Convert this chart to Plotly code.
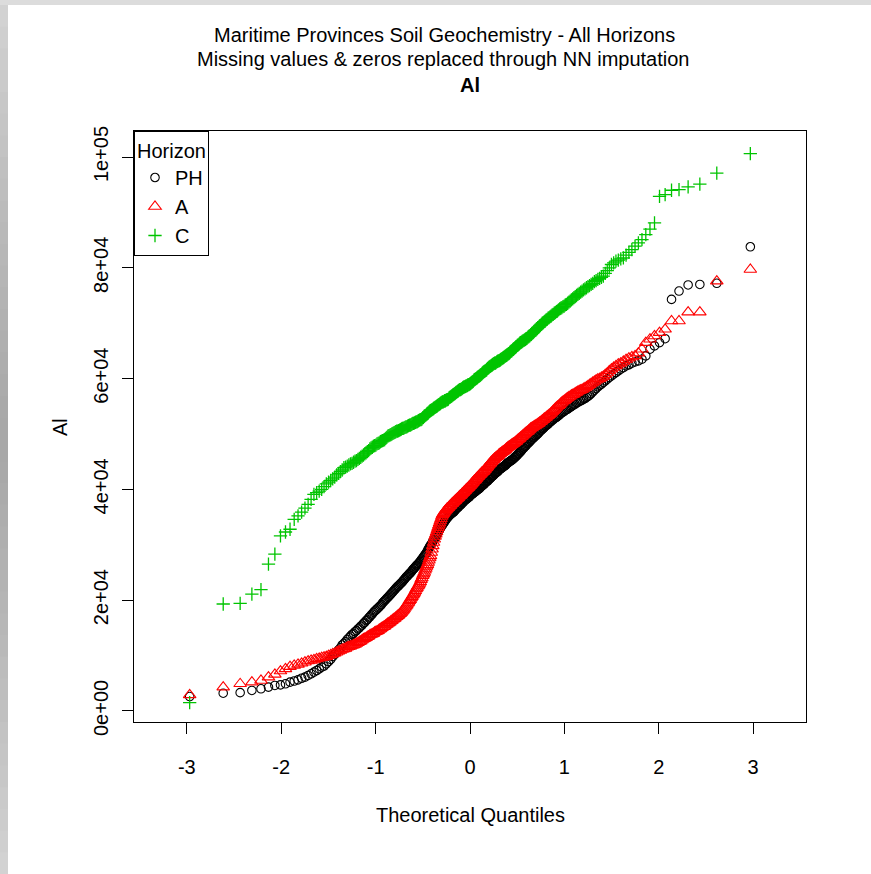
import plotly.graph_objects as go
from statistics import NormalDist

# Sorted Al concentrations per soil horizon (thousands of mg/kg)
ph_al_k = [
    2.6, 3.2, 3.3, 3.7, 4.0, 4.3, 4.6, 4.7, 4.9, 5.2,
    5.4, 5.6, 5.9, 6.1, 6.4, 6.7, 7.0, 7.3, 7.6, 7.9,
    8.1, 8.5, 8.9, 9.3, 9.8, 10.2, 10.6, 11.0, 11.4, 11.9,
    12.2, 12.5, 12.9, 13.2, 13.5, 13.8, 14.0, 14.3, 14.5, 14.8,
    15.0, 15.3, 15.5, 15.8, 16.0, 16.3, 16.5, 16.8, 17.0, 17.3,
    17.5, 17.8, 18.0, 18.2, 18.4, 18.6, 18.8, 19.0, 19.2, 19.5,
    19.7, 19.9, 20.1, 20.3, 20.5, 20.7, 20.9, 21.1, 21.3, 21.5,
    21.7, 21.9, 22.1, 22.3, 22.5, 22.6, 22.8, 23.0, 23.1, 23.3,
    23.5, 23.7, 23.9, 24.1, 24.3, 24.4, 24.6, 24.8, 24.9, 25.1,
    25.3, 25.5, 25.7, 25.8, 26.0, 26.2, 26.3, 26.5, 26.6, 26.8,
    27.0, 27.2, 27.4, 27.6, 27.8, 28.0, 28.2, 28.4, 28.6, 28.9,
    29.2, 29.4, 29.7, 29.9, 30.1, 30.3, 30.6, 30.8, 31.0, 31.3,
    31.6, 31.8, 32.1, 32.3, 32.6, 32.8, 33.0, 33.2, 33.4, 33.6,
    33.8, 34.0, 34.2, 34.4, 34.6, 34.8, 34.9, 35.1, 35.2, 35.4,
    35.5, 35.6, 35.7, 35.8, 35.9, 36.0, 36.2, 36.3, 36.5, 36.6,
    36.7, 36.8, 37.0, 37.1, 37.2, 37.3, 37.5, 37.6, 37.7, 37.9,
    38.0, 38.1, 38.2, 38.3, 38.4, 38.5, 38.6, 38.7, 38.9, 39.0,
    39.1, 39.2, 39.3, 39.4, 39.5, 39.6, 39.7, 39.8, 39.9, 40.0,
    40.1, 40.2, 40.3, 40.5, 40.6, 40.7, 40.8, 40.9, 41.0, 41.2,
    41.3, 41.4, 41.5, 41.6, 41.8, 41.9, 42.0, 42.1, 42.3, 42.4,
    42.5, 42.6, 42.8, 42.9, 43.0, 43.1, 43.2, 43.3, 43.5, 43.6,
    43.7, 43.8, 43.9, 44.0, 44.1, 44.2, 44.3, 44.4, 44.6, 44.7,
    44.8, 44.9, 45.0, 45.1, 45.2, 45.3, 45.4, 45.5, 45.7, 45.8,
    45.9, 46.1, 46.2, 46.4, 46.5, 46.7, 46.8, 47.0, 47.2, 47.4,
    47.5, 47.7, 47.8, 48.0, 48.2, 48.3, 48.5, 48.6, 48.8, 49.0,
    49.1, 49.3, 49.4, 49.6, 49.7, 49.9, 50.0, 50.2, 50.4, 50.6,
    50.7, 50.9, 51.0, 51.2, 51.4, 51.5, 51.7, 51.8, 52.0, 52.2,
    52.3, 52.5, 52.6, 52.8, 52.9, 53.0, 53.2, 53.3, 53.5, 53.7,
    53.8, 54.0, 54.1, 54.3, 54.4, 54.5, 54.7, 54.8, 55.0, 55.1,
    55.3, 55.4, 55.6, 55.7, 55.9, 56.0, 56.1, 56.3, 56.4, 56.6,
    56.8, 57.0, 57.3, 57.6, 57.9, 58.2, 58.5, 58.8, 59.0, 59.3,
    59.6, 59.9, 60.2, 60.5, 60.8, 61.1, 61.4, 61.7, 62.0, 62.3,
    62.5, 62.8, 63.0, 63.2, 63.5, 64.1, 65.3, 65.9, 66.5, 67.2,
    74.3, 75.8, 76.9, 77.0, 77.2, 83.8,
]

a_al_k = [
    2.9, 4.3, 4.9, 5.2, 5.5, 6.1, 6.6, 7.2, 7.6, 8.0,
    8.2, 8.4, 8.6, 8.8, 9.0, 9.1, 9.2, 9.4, 9.5, 9.6,
    9.7, 9.8, 10.0, 10.1, 10.3, 10.4, 10.6, 10.8, 10.9, 11.1,
    11.2, 11.3, 11.5, 11.6, 11.7, 11.8, 11.9, 12.0, 12.2, 12.3,
    12.5, 12.6, 12.8, 13.0, 13.1, 13.2, 13.4, 13.5, 13.7, 13.8,
    13.9, 14.0, 14.2, 14.3, 14.4, 14.5, 14.7, 14.8, 15.0, 15.1,
    15.2, 15.3, 15.5, 15.6, 15.8, 15.9, 16.0, 16.2, 16.3, 16.5,
    16.6, 16.7, 16.9, 17.0, 17.2, 17.3, 17.5, 17.6, 17.8, 18.0,
    18.2, 18.4, 18.7, 18.9, 19.1, 19.4, 19.6, 19.9, 20.1, 20.4,
    20.6, 20.9, 21.1, 21.4, 21.7, 22.0, 22.2, 22.5, 22.7, 23.0,
    23.3, 23.7, 24.0, 24.4, 24.7, 25.0, 25.4, 25.7, 26.1, 26.4,
    26.8, 27.2, 27.6, 28.0, 28.6, 29.2, 29.8, 30.4, 31.0, 31.5,
    31.9, 32.3, 32.7, 33.1, 33.5, 33.9, 34.3, 34.7, 35.1, 35.4,
    35.6, 35.8, 36.0, 36.2, 36.3, 36.5, 36.6, 36.7, 36.9, 37.0,
    37.1, 37.3, 37.4, 37.5, 37.7, 37.8, 37.9, 38.0, 38.2, 38.3,
    38.4, 38.5, 38.7, 38.8, 38.9, 39.0, 39.2, 39.3, 39.4, 39.6,
    39.7, 39.8, 40.0, 40.1, 40.2, 40.3, 40.5, 40.6, 40.7, 40.9,
    41.0, 41.2, 41.3, 41.5, 41.6, 41.7, 41.9, 42.0, 42.2, 42.3,
    42.4, 42.6, 42.7, 42.8, 43.0, 43.1, 43.2, 43.3, 43.5, 43.6,
    43.8, 43.9, 44.1, 44.3, 44.4, 44.6, 44.7, 44.9, 45.0, 45.2,
    45.3, 45.4, 45.6, 45.7, 45.8, 45.9, 46.0, 46.1, 46.3, 46.4,
    46.5, 46.6, 46.7, 46.8, 46.9, 47.0, 47.1, 47.2, 47.4, 47.5,
    47.6, 47.7, 47.8, 47.9, 48.0, 48.1, 48.2, 48.3, 48.4, 48.5,
    48.6, 48.7, 48.9, 49.0, 49.1, 49.2, 49.4, 49.5, 49.6, 49.8,
    49.9, 50.0, 50.2, 50.3, 50.4, 50.5, 50.7, 50.8, 51.0, 51.1,
    51.2, 51.3, 51.4, 51.5, 51.6, 51.7, 51.8, 51.9, 52.1, 52.2,
    52.3, 52.5, 52.6, 52.8, 52.9, 53.0, 53.2, 53.3, 53.5, 53.6,
    53.8, 54.0, 54.2, 54.4, 54.6, 54.8, 55.0, 55.1, 55.3, 55.5,
    55.7, 55.9, 56.0, 56.2, 56.4, 56.5, 56.7, 56.8, 57.0, 57.1,
    57.2, 57.4, 57.5, 57.7, 57.8, 57.9, 58.0, 58.2, 58.3, 58.5,
    58.7, 58.9, 59.1, 59.3, 59.5, 59.7, 59.9, 60.0, 60.2, 60.4,
    60.7, 61.0, 61.4, 61.7, 62.0, 62.3, 62.6, 62.8, 63.1, 63.4,
    63.7, 63.9, 64.1, 64.6, 65.3, 66.5, 67.1, 67.7, 68.3, 68.9,
    70.4, 70.4, 72.0, 72.0, 77.6, 79.7,
]

c_al_k = [
    1.5, 19.3, 19.4, 21.1, 21.9, 26.5, 28.3, 31.6, 32.3, 32.8,
    34.6, 35.2, 35.9, 36.6, 37.3, 38.2, 39.1, 39.4, 39.7, 40.0,
    40.5, 41.0, 41.3, 41.6, 41.9, 42.2, 42.6, 42.9, 43.2, 43.5,
    43.9, 44.0, 44.2, 44.4, 44.6, 44.7, 44.9, 45.1, 45.2, 45.4,
    45.6, 45.8, 46.0, 46.2, 46.4, 46.6, 46.8, 47.0, 47.3, 47.5,
    47.6, 47.8, 47.9, 48.0, 48.2, 48.3, 48.4, 48.6, 48.7, 48.8,
    48.9, 49.0, 49.2, 49.4, 49.6, 49.7, 49.8, 49.9, 50.0, 50.1,
    50.2, 50.3, 50.4, 50.5, 50.5, 50.6, 50.7, 50.8, 50.9, 51.0,
    51.0, 51.1, 51.2, 51.3, 51.3, 51.4, 51.5, 51.6, 51.6, 51.7,
    51.8, 51.9, 51.9, 52.0, 52.1, 52.2, 52.2, 52.3, 52.4, 52.5,
    52.6, 52.6, 52.7, 52.9, 53.0, 53.2, 53.3, 53.4, 53.6, 53.7,
    53.8, 54.0, 54.1, 54.2, 54.3, 54.4, 54.5, 54.6, 54.7, 54.8,
    54.9, 55.0, 55.1, 55.2, 55.3, 55.4, 55.5, 55.6, 55.7, 55.8,
    55.8, 55.9, 56.0, 56.0, 56.1, 56.2, 56.2, 56.3, 56.5, 56.6,
    56.7, 56.8, 56.9, 57.0, 57.1, 57.2, 57.3, 57.4, 57.5, 57.6,
    57.7, 57.8, 57.9, 58.0, 58.0, 58.1, 58.2, 58.3, 58.4, 58.5,
    58.5, 58.6, 58.7, 58.7, 58.8, 58.9, 58.9, 59.0, 59.1, 59.2,
    59.3, 59.4, 59.5, 59.7, 59.8, 59.9, 60.0, 60.1, 60.2, 60.3,
    60.4, 60.5, 60.6, 60.7, 60.8, 61.0, 61.1, 61.2, 61.3, 61.4,
    61.5, 61.6, 61.8, 61.9, 62.0, 62.1, 62.2, 62.3, 62.4, 62.5,
    62.6, 62.7, 62.8, 62.8, 62.9, 63.0, 63.1, 63.2, 63.2, 63.3,
    63.4, 63.5, 63.6, 63.7, 63.8, 63.9, 64.0, 64.1, 64.2, 64.3,
    64.4, 64.5, 64.6, 64.8, 64.9, 65.0, 65.2, 65.3, 65.4, 65.6,
    65.7, 65.8, 66.0, 66.1, 66.2, 66.4, 66.5, 66.6, 66.7, 66.8,
    66.9, 67.0, 67.1, 67.2, 67.3, 67.5, 67.6, 67.7, 67.9, 68.0,
    68.2, 68.3, 68.5, 68.7, 68.8, 69.0, 69.2, 69.3, 69.5, 69.6,
    69.8, 70.0, 70.1, 70.3, 70.4, 70.6, 70.7, 70.9, 71.0, 71.2,
    71.3, 71.5, 71.6, 71.8, 71.9, 72.1, 72.2, 72.4, 72.6, 72.7,
    72.8, 73.0, 73.1, 73.3, 73.4, 73.6, 73.8, 74.0, 74.2, 74.4,
    74.6, 74.8, 75.0, 75.2, 75.4, 75.6, 75.8, 76.0, 76.2, 76.4,
    76.6, 76.8, 77.0, 77.2, 77.5, 77.7, 77.9, 78.1, 78.3, 78.5,
    79.0, 79.5, 80.0, 80.6, 80.9, 81.2, 81.4, 81.6, 81.8, 82.3,
    82.8, 83.3, 83.9, 84.5, 85.1, 86.0, 87.0, 88.1,
    92.9, 93.2, 94.0, 94.1, 94.6, 95.1, 97.1, 100.6,
]

horizons = ["PH", "A", "C"]
x_ticks = [-3, -2, -1, 0, 1, 2, 3]
x_tick_labels = ["-3", "-2", "-1", "0", "1", "2", "3"]
y_ticks = [0, 20000, 40000, 60000, 80000, 100000]
y_tick_labels = ["0e+00", "2e+04", "4e+04", "6e+04", "8e+04", "1e+05"]


def normal_scores(n):
    # plotting positions as in R's ppoints()
    a = 3 / 8 if n <= 10 else 0.5
    nd = NormalDist()
    return [nd.inv_cdf((i - a) / (n + 1 - 2 * a)) for i in range(1, n + 1)]


FONT = "Liberation Sans, Arial, sans-serif"
W, H = 871, 874
L, R, T, B = 134, 806, 131, 722  # plot box in pixels


def fx(px):
    return (px - L) / (R - L)


def fy(py):
    return (B - py) / (B - T)


styles = {
    "PH": dict(symbol="circle-open", size=8.5, color="#000000", lw=1.1),
    "A": dict(symbol="triangle-up-open", size=11, color="#FF0000", lw=1.1),
    "C": dict(symbol="cross-thin-open", size=9.5, color="#00C400", lw=1.3),
}
series = {"PH": ph_al_k, "A": a_al_k, "C": c_al_k}

fig = go.Figure()
for h in horizons:
    vals = [v * 1000 for v in series[h]]
    st = styles[h]
    fig.add_trace(go.Scatter(
        x=normal_scores(len(vals)), y=vals, mode="markers", name=h,
        marker=dict(symbol=st["symbol"], size=st["size"], color=st["color"],
                    line=dict(color=st["color"], width=st["lw"])),
    ))

axis_common = dict(
    showgrid=False, zeroline=False, showline=True, linecolor="black",
    linewidth=1, mirror=True, ticks="outside", ticklen=11, tickwidth=1,
    tickcolor="black", tickfont=dict(family=FONT, size=20, color="black"),
)

fig.update_layout(
    width=W, height=H,
    margin=dict(l=L, r=W - R, t=T, b=H - B, pad=0),
    paper_bgcolor="white", plot_bgcolor="white",
    font=dict(family=FONT, size=20, color="black"),
    xaxis=dict(range=[-3.56, 3.56], tickvals=x_ticks, ticktext=x_tick_labels,
               ticklabelstandoff=16, **axis_common),
    yaxis=dict(range=[-2000, 104700], tickvals=y_ticks, ticktext=y_tick_labels,
               tickangle=-90, ticklabelstandoff=6, **axis_common),
    legend=dict(
        x=0, y=1, xanchor="left", yanchor="top",
        bgcolor="white", bordercolor="black", borderwidth=1,
        font=dict(family=FONT, size=20, color="black"),
        title=dict(text="Horizon", font=dict(family=FONT, size=20)),
        itemwidth=30, entrywidth=40, entrywidthmode="pixels",
    ),
    showlegend=True,
)

annotations = [
    dict(text="Maritime Provinces Soil Geochemistry - All Horizons", x=fx(444), y=fy(35)),
    dict(text="Missing values & zeros replaced through NN imputation", x=fx(443), y=fy(59)),
    dict(text="<b>Al</b>", x=fx(470), y=fy(85)),
    dict(text="Theoretical Quantiles", x=fx(470), y=fy(815)),
    dict(text="Al", x=fx(60), y=fy(427), textangle=-90),
]
for a in annotations:
    fig.add_annotation(xref="paper", yref="paper", xanchor="center", yanchor="middle",
                       showarrow=False, font=dict(family=FONT, size=20, color="black"), **a)

# window frame strips along the top and left edges
shapes = []
n_bands = 40
for k in range(n_bands):
    y0 = 5 + (H - 5) * k / n_bands
    y1 = 5 + (H - 5) * (k + 1) / n_bands + 1.5
    mid = (y0 + y1) / 2
    t = abs(mid - 440) / 440
    g = int(168 + (212 - 168) * min(t, 1.0) ** 1.2)
    shapes.append(dict(type="rect", xref="paper", yref="paper", x0=fx(0), x1=fx(8),
                       y0=fy(y1), y1=fy(y0), fillcolor=f"rgb({g},{g},{g})",
                       line_width=0, layer="below"))
shapes.append(dict(type="rect", xref="paper", yref="paper", x0=fx(0), x1=fx(W), y0=fy(5), y1=fy(0),
                   fillcolor="#DCDCDC", line_width=0, layer="below"))
fig.update_layout(shapes=shapes)

fig.write_html("out.html")
